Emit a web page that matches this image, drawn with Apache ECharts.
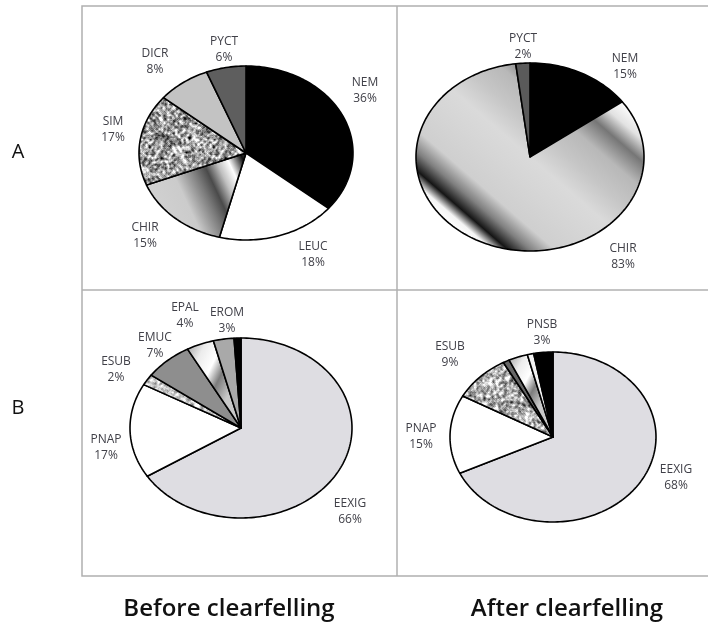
<!DOCTYPE html>
<html><head><meta charset="utf-8">
<script src="https://cdn.jsdelivr.net/npm/echarts@6/dist/echarts.min.js"></script>
<style>html,body{margin:0;padding:0;background:#fff}#c{width:708px;height:623px}</style>
</head><body><div id="c"></div>
<script>
// ---------- DATA ----------
const rowLabels = ['A', 'B'];
const colLabels = ['Before clearfelling', 'After clearfelling'];

const beforeA_names = ['NEM', 'LEUC', 'CHIR', 'SIM', 'DICR', 'PYCT'];
const beforeA_values = [36, 18, 15, 17, 8, 6];

const afterA_names = ['NEM', 'CHIR', 'PYCT'];
const afterA_values = [15, 83, 2];

const beforeB_names = ['EEXIG', 'PNAP', 'ESUB', 'EMUC', 'EPAL', 'EROM', ''];
const beforeB_values = [66, 17, 2, 7, 4, 3, 1];

const afterB_names = ['EEXIG', 'PNAP', 'ESUB', '', '', '', 'PNSB'];
const afterB_values = [68, 15, 9, 1, 3, 1, 3];

// ---------- STYLE / LAYOUT ----------
function speckle(base, amp, seed) {
  const N = 64;
  let s = seed;
  const rnd = () => { s = (s * 1103515245 + 12345) & 0x7fffffff; return s / 0x7fffffff; };
  const raw = new Float32Array(N * N);
  for (let i = 0; i < N * N; i++) raw[i] = rnd() - 0.5;
  const sm = new Float32Array(N * N);
  for (let y = 0; y < N; y++) for (let x = 0; x < N; x++) {
    let acc = 0;
    for (let dy = -1; dy <= 1; dy++) for (let dx = -1; dx <= 1; dx++) {
      acc += raw[((y + dy + N) % N) * N + ((x + dx + N) % N)];
    }
    sm[y * N + x] = acc / 9;
  }
  const c = document.createElement('canvas');
  c.width = c.height = N;
  const ctx = c.getContext('2d');
  const img = ctx.createImageData(N, N);
  for (let i = 0; i < N * N; i++) {
    const g = Math.max(0, Math.min(255, Math.round(base + (sm[i] * 3 + (raw[i]) * 0.35) * amp)));
    img.data[i * 4] = g; img.data[i * 4 + 1] = g; img.data[i * 4 + 2] = g; img.data[i * 4 + 3] = 255;
  }
  ctx.putImageData(img, 0, 0);
  return { image: c, repeat: 'repeat' };
}
function grad(x0, y0, x1, y1, stops, global) {
  return new echarts.graphic.LinearGradient(x0, y0, x1, y1,
    stops.map(s => ({ offset: s[0], color: s[1] })), global);
}

const panels = [
  { names: beforeA_names, values: beforeA_values,
    fills: ['#000000', '#ffffff', 'metalTL', 'speckDark', '#c3c3c3', '#5e5e5e'],
    cx: 246, cy: 153, rx: 107, ry: 87,
    lab: [[119, -62], [67, 102], [-101, 83], [-133, -23], [-91, -91], [-22, -103]] },
  { names: afterA_names, values: afterA_values,
    fills: ['#000000', 'metalTR', '#5a5a5a'],
    cx: 530, cy: 157, rx: 114, ry: 94,
    lab: [[95, -90], [93, 100], [-7, -110]] },
  { names: beforeB_names, values: beforeB_values,
    fills: ['#dedde2', '#ffffff', 'speckLight', '#8e8e8e', 'metalSmall', '#a9a9a9', '#000000'],
    cx: 241, cy: 428, rx: 111, ry: 90,
    lab: [[109, 84], [-135, 20], [-125, -58], [-86, -82], [-56, -112], [-14, -107], [0, 0]] },
  { names: afterB_names, values: afterB_values,
    fills: ['#dedde2', '#ffffff', 'speckMid', '#666666', 'metalSmall', '#f2f2f2', '#000000'],
    cx: 553, cy: 437, rx: 103, ry: 85,
    lab: [[123, 41], [-132, 0], [-103, -82], [0, 0], [0, 0], [0, 0], [-11, -104]] }
];

const textures = {
  speckDark: speckle(160, 150, 7),
  speckLight: speckle(200, 90, 11),
  speckMid: speckle(175, 130, 23)
};

function resolveFill(key, p) {
  if (textures[key]) return textures[key];
  if (key === 'metalTR') {
    const dx = 0.655, dy = -0.756;
    const L = Math.sqrt(Math.pow(p.rx * dx, 2) + Math.pow(p.ry * dy, 2));
    return grad(p.cx - L * dx, p.cy - L * dy, p.cx + L * dx, p.cy + L * dy, [
      [0, '#ffffff'], [0.04, '#f4f4f4'], [0.09, '#151515'], [0.16, '#808080'],
      [0.24, '#cfcfcf'], [0.4, '#d6d6d6'], [0.5, '#dadada'], [0.62, '#c6c6c6'],
      [0.74, '#b8b8b8'], [0.84, '#767676'], [0.92, '#e2e2e2'], [1, '#ffffff']], true);
  }
  if (key === 'metalTL') {
    return grad(p.cx - 115, p.cy + 60, p.cx + 10, p.cy + 2, [
      [0, '#d6d6d6'], [0.4, '#cbcbcb'], [0.55, '#7a7a7a'], [0.63, '#4a4a4a'],
      [0.72, '#c0c0c0'], [0.8, '#ffffff'], [0.9, '#111111'], [1, '#8a8a8a']], true);
  }
  if (key === 'metalSmall') {
    return grad(0, 0, 1, 0.3, [
      [0, '#9a9a9a'], [0.3, '#ececec'], [0.55, '#ffffff'], [0.75, '#7c7c7c'], [1, '#c8c8c8']], false);
  }
  return key;
}

function makeSeries(p) {
  const total = p.values.reduce((a, b) => a + b, 0);
  return {
    type: 'custom',
    coordinateSystem: 'none',
    silent: true,
    animation: false,
    data: p.values.map((v, i) => [v, i]),
    renderItem: function (params, api) {
      const i = params.dataIndex;
      const v = api.value(0);
      let before = 0;
      for (let k = 0; k < i; k++) before += p.values[k];
      const a0 = before / total * Math.PI * 2;
      const a1 = (before + v) / total * Math.PI * 2;
      const n = Math.max(2, Math.ceil((a1 - a0) * 40));
      const pts = [[p.cx, p.cy]];
      for (let j = 0; j <= n; j++) {
        const t = a0 + (a1 - a0) * j / n;
        pts.push([p.cx + p.rx * Math.sin(t), p.cy - p.ry * Math.cos(t)]);
      }
      const children = [{
        type: 'polygon',
        shape: { points: pts },
        style: { fill: resolveFill(p.fills[i], p), stroke: '#000', lineWidth: 1.6, lineJoin: 'round' }
      }];
      const name = p.names[i];
      if (name) {
        children.push({
          type: 'text',
          x: p.cx + p.lab[i][0], y: p.cy + p.lab[i][1],
          style: {
            text: name + '\n' + v + '%',
            fill: '#404048',
            font: '12px "Open Sans"',
            lineHeight: 16,
            align: 'center',
            verticalAlign: 'middle'
          }
        });
      }
      return { type: 'group', children: children };
    }
  };
}

const chart = echarts.init(document.getElementById('c'), null, { renderer: 'canvas', width: 708, height: 623 });

const graphics = [
  { type: 'rect', shape: { x: 82, y: 6, width: 660, height: 570 }, style: { fill: 'none', stroke: '#b0b0b0', lineWidth: 1.5 }, silent: true },
  { type: 'line', shape: { x1: 397, y1: 6, x2: 397, y2: 576 }, style: { stroke: '#b0b0b0', lineWidth: 1.5 }, silent: true },
  { type: 'line', shape: { x1: 82, y1: 290, x2: 708, y2: 290 }, style: { stroke: '#b0b0b0', lineWidth: 1.5 }, silent: true },
  { type: 'text', x: 18, y: 152, style: { text: rowLabels[0], font: '20px "Open Sans"', fill: '#111', align: 'center', verticalAlign: 'middle' } },
  { type: 'text', x: 18, y: 408, style: { text: rowLabels[1], font: '20px "Open Sans"', fill: '#111', align: 'center', verticalAlign: 'middle' } },
  { type: 'text', x: 229, y: 609, style: { text: colLabels[0], font: '600 24px "Open Sans"', fill: '#111', align: 'center', verticalAlign: 'middle' } },
  { type: 'text', x: 567, y: 609, style: { text: colLabels[1], font: '600 24px "Open Sans"', fill: '#111', align: 'center', verticalAlign: 'middle' } }
];

chart.setOption({
  animation: false,
  backgroundColor: '#ffffff',
  graphic: graphics,
  series: panels.map(makeSeries)
});
</script>
</body></html>
